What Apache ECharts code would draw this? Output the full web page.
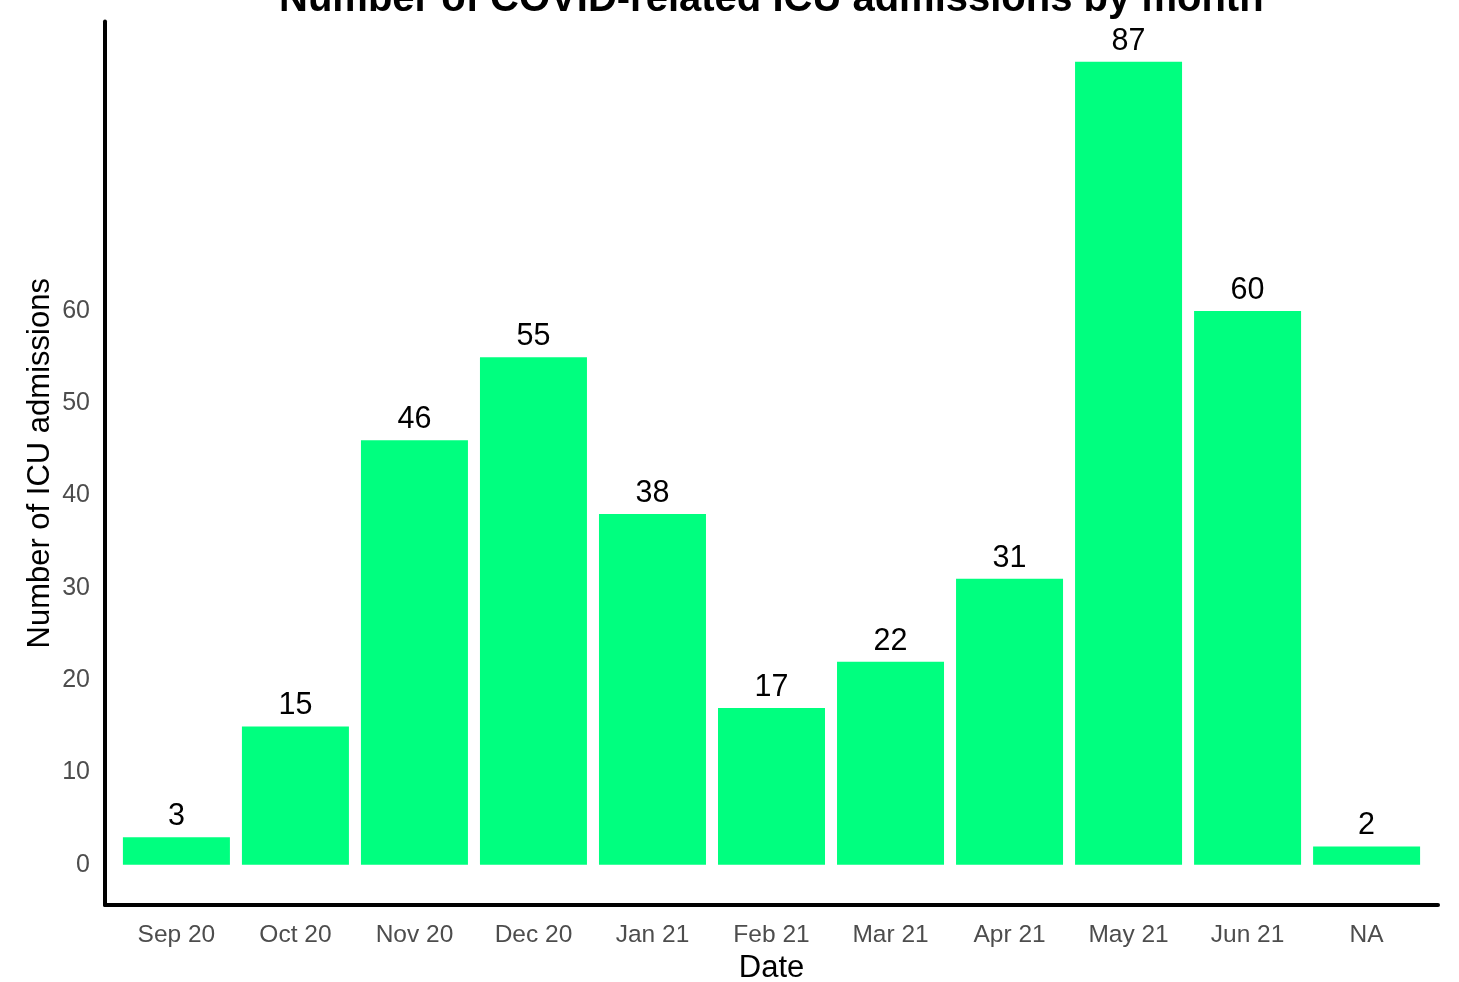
<!DOCTYPE html>
<html><head><meta charset="utf-8">
<script src="https://cdn.jsdelivr.net/npm/echarts@6/dist/echarts.min.js"></script>
<style>html,body{margin:0;padding:0;background:#fff}#c{width:1459px;height:982px}</style>
</head><body><div id="c"></div>
<script>
const categories = ['Sep 20','Oct 20','Nov 20','Dec 20','Jan 21','Feb 21','Mar 21','Apr 21','May 21','Jun 21','NA'];
const admissions = [3, 15, 46, 55, 38, 17, 22, 31, 87, 60, 2];
const yTicks = [0, 10, 20, 30, 40, 50, 60];
const xTicks = categories.map((c, i) => i);

const chart = echarts.init(document.getElementById('c'));
const font = 'Liberation Sans, Arial, sans-serif';
chart.setOption({
  animation: false,
  title: {
    text: 'Number of COVID-related ICU admissions by month',
    left: 274, top: -25,
    textStyle: { fontFamily: font, fontSize: 40, fontWeight: 'bold', color: '#000' }
  },
  grid: { left: 105, right: 21, top: 21.6, bottom: 77, containLabel: false, outerBoundsMode: 'none' },
  xAxis: {
    type: 'value', min: -0.6, max: 10.6,
    splitLine: { show: false },
    axisLine: { show: true, onZero: false, lineStyle: { color: '#000', width: 4 } },
    axisTick: { show: false },
    axisLabel: {
      customValues: xTicks, margin: 18,
      formatter: v => categories[Math.round(v)],
      fontFamily: font, fontSize: 24.5, color: '#4D4D4D'
    },
    name: 'Date', nameLocation: 'middle', nameGap: 48, nameMoveOverlap: false,
    nameTextStyle: { fontFamily: font, fontSize: 31, color: '#000' }
  },
  yAxis: {
    type: 'value', min: -4.35, max: 91.35,
    splitLine: { show: false },
    axisLine: { show: true, onZero: false, lineStyle: { color: '#000', width: 4 } },
    axisTick: { show: false },
    axisLabel: {
      customValues: yTicks, margin: 15,
      fontFamily: font, fontSize: 25, color: '#4D4D4D'
    },
    name: 'Number of ICU admissions', nameLocation: 'middle', nameGap: 49, nameMoveOverlap: false,
    nameTextStyle: { fontFamily: font, fontSize: 31, color: '#000' }
  },
  series: [{
    type: 'bar',
    data: admissions.map((v, i) => [i, v]),
    barWidth: 107,
    itemStyle: { color: '#00FF7F' },
    label: {
      show: true, position: 'top', distance: 5,
      formatter: p => p.value[1],
      fontFamily: font, fontSize: 30.5, color: '#000'
    }
  }]
});
</script></body></html>
